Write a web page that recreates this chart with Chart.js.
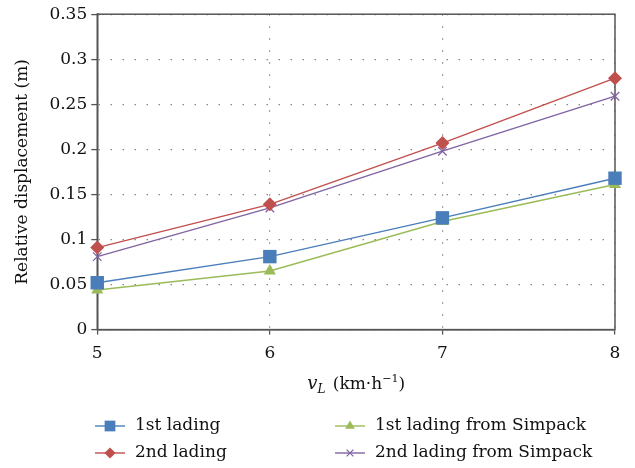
<!DOCTYPE html>
<html>
<head>
<meta charset="utf-8">
<script src="https://cdn.jsdelivr.net/npm/chart.js@4.4.1/dist/chart.umd.min.js"></script>
<style>
  html, body { margin: 0; padding: 0; background: #fff; }
  #wrap { width: 635px; height: 468px; }
</style>
</head>
<body>
<div id="wrap"><canvas id="c" width="635" height="468"></canvas></div>
<script>
// speeds (km/h) and relative displacement (m)
const speeds = [5, 6, 7, 8];
const lading1 = [0.052, 0.081, 0.124, 0.168];
const lading2 = [0.091, 0.139, 0.207, 0.279];
const lading1Simpack = [0.044, 0.065, 0.120, 0.161];
const lading2Simpack = [0.081, 0.135, 0.198, 0.259];
const yTickLabels = ["0", "0.05", "0.1", "0.15", "0.2", "0.25", "0.3", "0.35"];
const xTickLabels = ["5", "6", "7", "8"];

const FONT = "'DejaVu Serif', serif";
const AXIS = "#555";

function series(label, values, color, style, radius, fill) {
  return {
    label,
    data: speeds.map((x, i) => ({ x, y: values[i] })),
    borderColor: color,
    backgroundColor: fill ? color : "transparent",
    pointBackgroundColor: color,
    pointBorderColor: color,
    pointStyle: style,
    pointRadius: radius,
    pointHoverRadius: radius,
    pointBorderWidth: fill ? 0 : 1.3,
    borderWidth: 1.4,
    tension: 0,
    clip: false
  };
}

const datasets = [
  series("1st lading", lading1, "#4a7ebb", "rect", 9.5, true),
  series("2nd lading", lading2, "#c0504d", "rectRot", 7, true),
  series("1st lading from Simpack", lading1Simpack, "#9bbb59", "triangle", 7, true),
  series("2nd lading from Simpack", lading2Simpack, "#8064a2", "crossRot", 6, false)
];

// frame around the plot area + x title + legend
const extras = {
  id: "extras",
  beforeDatasetsDraw(chart) {
    const { ctx, chartArea: a } = chart;
    ctx.save();
    ctx.strokeStyle = AXIS;
    ctx.lineWidth = 1.5;
    ctx.strokeRect(a.left, a.top, a.right - a.left, a.bottom - a.top);
    ctx.restore();
  },
  afterDraw(chart) {
    const { ctx, chartArea: a } = chart;
    ctx.save();
    ctx.fillStyle = "#111";
    ctx.textBaseline = "alphabetic";
    // x axis title: v_L (km·h⁻¹)
    const cx = (a.left + a.right) / 2;
    const ty = 389;
    ctx.font = "italic 18px " + FONT;
    const wv = ctx.measureText("v").width;
    ctx.font = "italic 12px " + FONT;
    const wl = ctx.measureText("L").width + 2;
    ctx.font = "17px " + FONT;
    const rest = " (km·h";
    const wr = ctx.measureText(rest).width;
    ctx.font = "11px " + FONT;
    const wm = ctx.measureText("−1").width;
    ctx.font = "17px " + FONT;
    const wp = ctx.measureText(")").width;
    let x = cx - (wv + wl + wr + wm + wp) / 2;
    ctx.textAlign = "left";
    ctx.font = "italic 18px " + FONT; ctx.fillText("v", x, ty); x += wv;
    ctx.font = "italic 12px " + FONT; ctx.fillText("L", x, ty + 4); x += wl;
    ctx.font = "17px " + FONT; ctx.fillText(rest, x, ty); x += wr;
    ctx.font = "11px " + FONT; ctx.fillText("−1", x, ty - 7); x += wm;
    ctx.font = "17px " + FONT; ctx.fillText(")", x, ty);

    // legend, two columns
    const slots = [
      { i: 0, x: 95, y: 426 },
      { i: 1, x: 95, y: 453 },
      { i: 2, x: 335, y: 426 },
      { i: 3, x: 335, y: 453 }
    ];
    slots.forEach(s => {
      const ds = chart.data.datasets[s.i];
      ctx.strokeStyle = ds.borderColor;
      ctx.lineWidth = 1.4;
      ctx.beginPath();
      ctx.moveTo(s.x, s.y);
      ctx.lineTo(s.x + 30, s.y);
      ctx.stroke();
      ctx.fillStyle = ds.pointBackgroundColor;
      ctx.lineWidth = ds.pointBorderWidth || 1;
      Chart.helpers.drawPoint(ctx, {
        pointStyle: ds.pointStyle,
        radius: ds.pointRadius * 0.8,
        borderWidth: ds.pointBorderWidth,
        rotation: 0
      }, s.x + 15, s.y);
      ctx.fillStyle = "#111";
      ctx.font = "17px " + FONT;
      ctx.textBaseline = "middle";
      ctx.fillText(ds.label, s.x + 40, s.y);
    });
    ctx.restore();
  }
};

new Chart(document.getElementById("c"), {
  type: "line",
  data: { datasets },
  plugins: [extras],
  options: {
    responsive: false,
    animation: false,
    events: [],
    layout: { padding: { top: 0, right: 20, bottom: 95, left: 12 } },
    plugins: { legend: { display: false }, tooltip: { enabled: false } },
    scales: {
      x: {
        type: "linear",
        min: 5,
        max: 8,
        ticks: {
          stepSize: 1,
          color: "#111",
          font: { family: FONT, size: 17 },
          padding: 9,
          callback: (v) => xTickLabels[speeds.indexOf(v)] ?? ""
        },
        grid: {
          color: "#888",
          lineWidth: 1.2,
          tickLength: 5,
          tickColor: AXIS,
          tickBorderDash: [],
          tickWidth: 1.3
        },
        border: { display: true, color: AXIS, width: 1.5, dash: [1.5, 10.5] }
      },
      y: {
        min: 0,
        max: 0.35,
        ticks: {
          stepSize: 0.05,
          color: "#111",
          font: { family: FONT, size: 17 },
          padding: 4,
          callback: (v, i) => yTickLabels[i]
        },
        grid: {
          color: "#888",
          lineWidth: 1.2,
          tickLength: 6,
          tickColor: AXIS,
          tickBorderDash: [],
          tickWidth: 1.3
        },
        border: { display: true, color: AXIS, width: 1.5, dash: [1.5, 10.5] },
        title: {
          display: true,
          text: "Relative displacement (m)",
          color: "#111",
          font: { family: FONT, size: 17 },
          padding: { top: 0, bottom: 13 }
        }
      }
    }
  }
});
</script>
</body>
</html>
